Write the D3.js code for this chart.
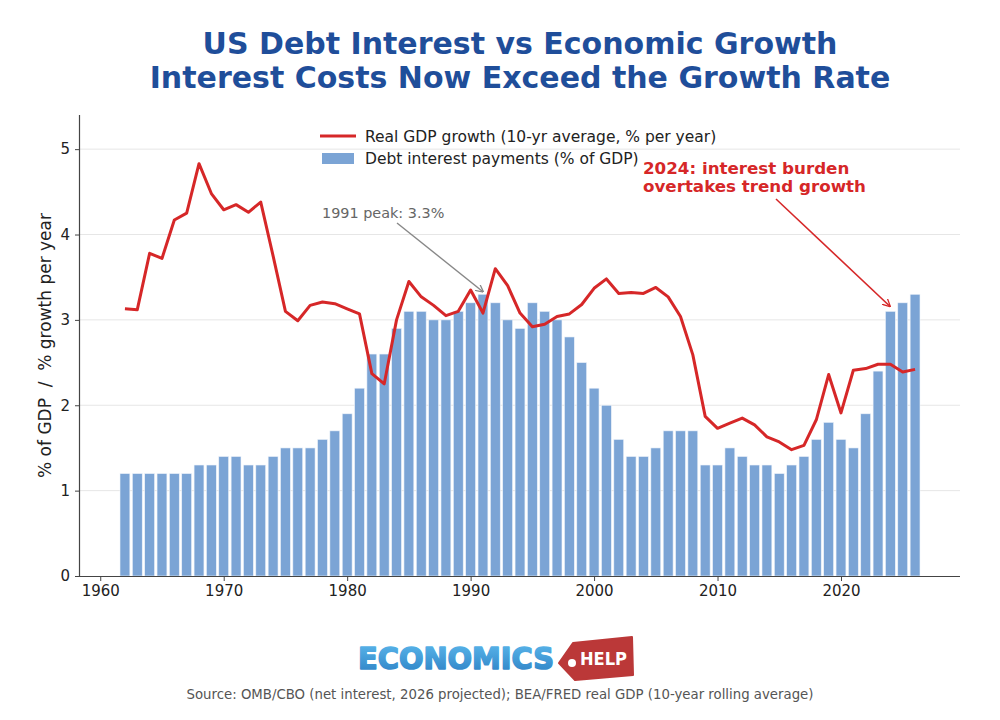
<!DOCTYPE html>
<html>
<head>
<meta charset="utf-8">
<script src="https://cdn.jsdelivr.net/npm/d3@7"></script>
<style>
  body { margin: 0; background: #fff; font-family: "DejaVu Sans", sans-serif; }
  svg text { font-family: "DejaVu Sans", sans-serif; }
</style>
</head>
<body>
<svg id="chart"></svg>
<script>
// years shared by both series
const years = d3.range(1962, 2027);

// net interest, % of GDP
const interest = [
  1.2, 1.2, 1.2, 1.2, 1.2, 1.2, 1.3, 1.3, 1.4, 1.4,
  1.3, 1.3, 1.4, 1.5, 1.5, 1.5, 1.6, 1.7, 1.9, 2.2,
  2.6, 2.6, 2.9, 3.1, 3.1, 3.0, 3.0, 3.1, 3.2, 3.3,
  3.2, 3.0, 2.9, 3.2, 3.1, 3.0, 2.8, 2.5, 2.2, 2.0,
  1.6, 1.4, 1.4, 1.5, 1.7, 1.7, 1.7, 1.3, 1.3, 1.5,
  1.4, 1.3, 1.3, 1.2, 1.3, 1.4, 1.6, 1.8, 1.6, 1.5,
  1.9, 2.4, 3.1, 3.2, 3.3
];

// real GDP growth, 10-yr rolling average
const gdpGrowth = [
  3.13, 3.12, 3.78, 3.72, 4.17, 4.25, 4.83, 4.48, 4.29, 4.35,
  4.26, 4.38, 3.75, 3.10, 2.99, 3.17, 3.21, 3.19, 3.13, 3.07,
  2.37, 2.25, 3.00, 3.45, 3.27, 3.17, 3.05, 3.10, 3.35, 3.08,
  3.60, 3.40, 3.08, 2.92, 2.95, 3.04, 3.07, 3.18, 3.37, 3.48,
  3.31, 3.32, 3.31, 3.38, 3.27, 3.04, 2.59, 1.87, 1.73, 1.79,
  1.85, 1.77, 1.63, 1.57, 1.48, 1.53, 1.83, 2.36, 1.91, 2.41,
  2.43, 2.48, 2.48, 2.39, 2.42
];

const xTicks = [1960, 1970, 1980, 1990, 2000, 2010, 2020];
const yTicks = [0, 1, 2, 3, 4, 5];

const width = 1000, height = 720;
const margin = { top: 115, right: 40, bottom: 144, left: 80 };
const w = width - margin.left - margin.right;
const h = height - margin.top - margin.bottom;

const svg = d3.select('#chart')
  .attr('width', width)
  .attr('height', height);

// arrow heads
const defs = svg.append('defs');
[['arrowGray', '#888'], ['arrowRed', '#d62728']].forEach(([id, c]) => {
  defs.append('marker')
    .attr('id', id)
    .attr('viewBox', '0 0 10 10')
    .attr('refX', 9).attr('refY', 5)
    .attr('markerWidth', 8).attr('markerHeight', 8)
    .attr('markerUnits', 'userSpaceOnUse')
    .attr('orient', 'auto')
    .append('path')
    .attr('d', 'M0,0 L10,5 L0,10')
    .attr('fill', 'none')
    .attr('stroke', c)
    .attr('stroke-width', 1.6);
});

const chart = svg.append('g')
  .attr('transform', `translate(${margin.left},${margin.top})`);

const x = d3.scaleLinear().domain([1958.36, 2029.64]).range([0, w]);
const y = d3.scaleLinear().domain([0, 5.4]).range([h, 0]);

// grid
chart.append('g')
  .selectAll('line')
  .data(yTicks.slice(1))
  .join('line')
  .attr('x1', 0).attr('x2', w)
  .attr('y1', d => y(d)).attr('y2', d => y(d))
  .attr('stroke', '#e6e6e6')
  .attr('stroke-width', 1);

// bars
const step = x(1) - x(0);
const barW = step * 0.8;
chart.append('g')
  .selectAll('rect')
  .data(years.map((yr, i) => ({ yr, v: interest[i] })))
  .join('rect')
  .attr('x', d => x(d.yr) - barW / 2)
  .attr('width', barW)
  .attr('y', d => y(d.v))
  .attr('height', d => h - y(d.v))
  .attr('fill', '#7ba4d5')
  .attr('stroke', '#eef3fa')
  .attr('stroke-width', 0.6);

// GDP line
const line = d3.line()
  .x(d => x(d.yr))
  .y(d => y(d.v));
chart.append('path')
  .datum(years.map((yr, i) => ({ yr, v: gdpGrowth[i] })))
  .attr('fill', 'none')
  .attr('stroke', '#d62728')
  .attr('stroke-width', 3)
  .attr('stroke-linejoin', 'round')
  .attr('d', line);

// axes
const xAxis = chart.append('g')
  .attr('transform', `translate(0,${h})`)
  .call(d3.axisBottom(x).tickValues(xTicks).tickFormat(d3.format('d')).tickSize(5).tickPadding(4));
const yAxis = chart.append('g')
  .call(d3.axisLeft(y).tickValues(yTicks).tickFormat(d3.format('d')).tickSize(5).tickPadding(5));
[xAxis, yAxis].forEach(g => {
  g.select('.domain').attr('stroke', '#444').attr('stroke-width', 1.2);
  g.selectAll('.tick line').attr('stroke', '#444');
  g.selectAll('.tick text').attr('font-size', 15).attr('fill', '#222');
});
// the x domain line should span the full width without end ticks
xAxis.select('.domain').attr('d', `M0,0.5H${w}`);
yAxis.select('.domain').attr('d', `M-0.5,${h}V0`);

// y label
chart.append('text')
  .attr('transform', 'rotate(-90)')
  .attr('x', -h / 2)
  .attr('y', -29)
  .attr('text-anchor', 'middle')
  .attr('font-size', 17)
  .attr('fill', '#222')
  .style('white-space', 'pre')
  .text('% of GDP  /  % growth per year');

// legend
const leg = chart.append('g').attr('transform', 'translate(240,21)');
leg.append('line')
  .attr('x1', 0).attr('x2', 36).attr('y1', 0).attr('y2', 0)
  .attr('stroke', '#d62728').attr('stroke-width', 3);
leg.append('text')
  .attr('x', 45).attr('y', 5.5)
  .attr('font-size', 15.5).attr('fill', '#222')
  .text('Real GDP growth (10-yr average, % per year)');
leg.append('rect')
  .attr('x', 2).attr('y', 17).attr('width', 32).attr('height', 11)
  .attr('fill', '#7ba4d5');
leg.append('text')
  .attr('x', 45).attr('y', 28)
  .attr('font-size', 15.5).attr('fill', '#222')
  .text('Debt interest payments (% of GDP)');

// annotations
chart.append('text')
  .attr('x', 242).attr('y', 103)
  .attr('font-size', 14.4).attr('fill', '#666')
  .text('1991 peak: 3.3%');
chart.append('line')
  .attr('x1', 317).attr('y1', 108)
  .attr('x2', x(1991)).attr('y2', y(3.33))
  .attr('stroke', '#888').attr('stroke-width', 1.4)
  .attr('marker-end', 'url(#arrowGray)');

const red = chart.append('text')
  .attr('font-size', 16.7).attr('font-weight', 'bold').attr('fill', '#d62728');
red.append('tspan').attr('x', 563).attr('y', 59).text('2024: interest burden');
red.append('tspan').attr('x', 563).attr('y', 77).text('overtakes trend growth');
chart.append('line')
  .attr('x1', 696).attr('y1', 84)
  .attr('x2', x(2024) - 0.5).attr('y2', y(3.16))
  .attr('stroke', '#d62728').attr('stroke-width', 1.6)
  .attr('marker-end', 'url(#arrowRed)');

// title
const title = svg.append('text')
  .attr('text-anchor', 'middle')
  .attr('font-size', 30).attr('font-weight', 'bold').attr('fill', '#1f4e9a');
title.append('tspan').attr('x', 520).attr('y', 54).text('US Debt Interest vs Economic Growth');
title.append('tspan').attr('x', 520).attr('y', 88).text('Interest Costs Now Exceed the Growth Rate');

// logo
const grad = defs.append('linearGradient').attr('id', 'logoBlue')
  .attr('x1', 0).attr('y1', 0).attr('x2', 0).attr('y2', 1);
grad.append('stop').attr('offset', '0%').attr('stop-color', '#5cb8ec');
grad.append('stop').attr('offset', '100%').attr('stop-color', '#2c80c4');
const logo = svg.append('g');
logo.append('text')
  .attr('x', 358).attr('y', 669)
  .attr('font-size', 30).attr('font-weight', 'bold')
  .attr('font-family', 'Verdana, "DejaVu Sans", sans-serif')
  .attr('fill', 'url(#logoBlue)')
  .attr('stroke', 'url(#logoBlue)').attr('stroke-width', 1.6)
  .attr('stroke-linejoin', 'round')
  .attr('textLength', 196).attr('lengthAdjust', 'spacingAndGlyphs')
  .text('ECONOMICS');
logo.append('path')
  .attr('d', 'M559,663 L573,643 L632,637 L633,675 L575,680 Z')
  .attr('fill', '#bb3838')
  .attr('stroke', '#bb3838').attr('stroke-width', 2).attr('stroke-linejoin', 'round');
logo.append('circle').attr('cx', 572).attr('cy', 663).attr('r', 4).attr('fill', '#fff');
logo.append('text')
  .attr('x', 580).attr('y', 665)
  .attr('font-size', 18).attr('font-weight', 'bold').attr('fill', '#fff')
  .attr('textLength', 47).attr('lengthAdjust', 'spacingAndGlyphs')
  .text('HELP');

// source
svg.append('text')
  .attr('x', 500).attr('y', 699)
  .attr('text-anchor', 'middle')
  .attr('font-size', 13.3).attr('fill', '#555')
  .text('Source: OMB/CBO (net interest, 2026 projected); BEA/FRED real GDP (10-year rolling average)');
</script>
</body>
</html>
